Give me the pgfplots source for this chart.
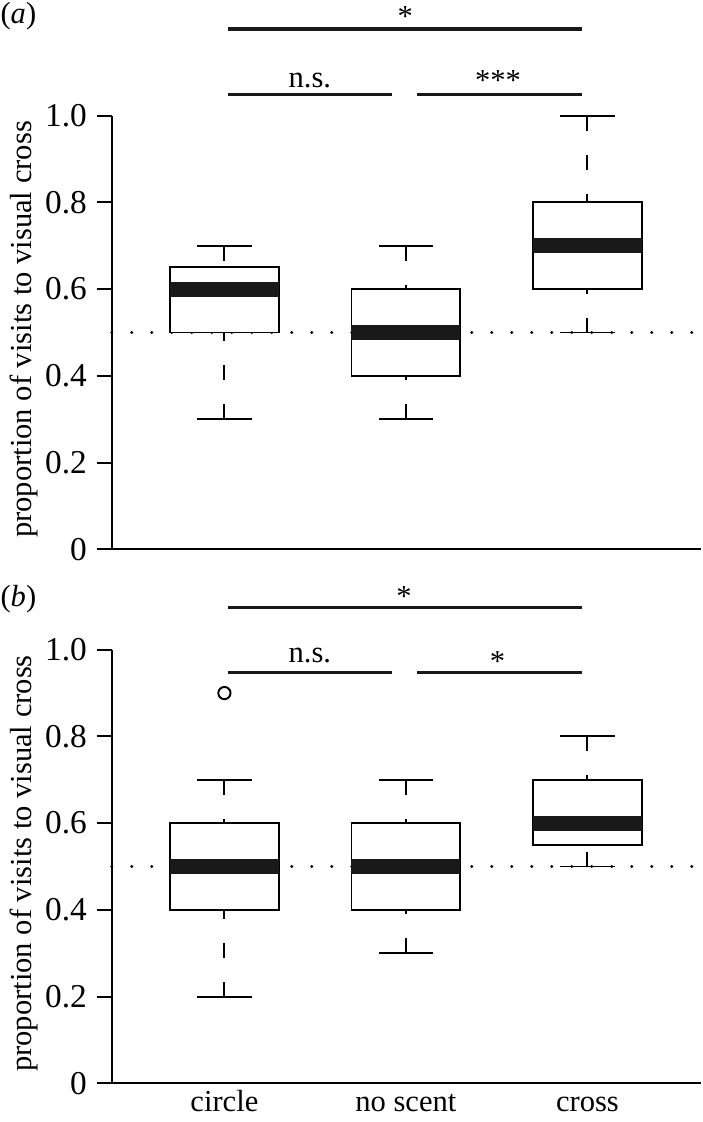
\documentclass[border=0pt]{standalone}
\usepackage{fontspec}
\setmainfont{Liberation Serif}
\usepackage{pgfplots}
\pgfplotsset{compat=1.18}

\newcommand{\fs}{\fontsize{11}{13}\selectfont}
\newcommand{\ft}{\fontsize{12}{14}\selectfont}

\pgfplotsset{
  panel/.style={
    scale only axis, width=212.04pt, height=156.1pt,
    anchor=south west,
    xmin=0.379, xmax=3.624, ymin=0, ymax=1,
    enlargelimits=false, clip=false,
    axis lines=left, axis line style={-, line width=0.7pt},
    ytick={0,0.2,0.4,0.6,0.8,1}, yticklabels={0,0.2,0.4,0.6,0.8,1.0},
    tick align=outside, major tick length=5.4pt,
    ytick style={line width=0.7pt, black},
    xtick style={draw=none},
    yticklabel style={font=\ft},
    xticklabel style={font=\fs},
    ylabel={proportion of visits to visual cross},
    ylabel style={font=\fs, at={(axis description cs:-0.149,0.507)}, anchor=center},
    unbounded coords=jump,
  },
  whisk/.style={black, line width=0.7pt, dash pattern=on 5.4pt off 8.64pt},
  cap/.style={black, line width=0.7pt},
  box/.style={black, fill=white, line width=0.7pt},
  med/.style={black!90, line width=5.4pt},
  sig/.style={black!90, line width=1.1pt},
  ref/.style={black, line width=1.15pt, line cap=round, dash pattern=on 0pt off 7.2pt},
}
\tikzset{lab/.style={font=\fs, inner sep=0pt, anchor=base}}

\begin{document}
\begin{tikzpicture}
\useasboundingbox (0,0) rectangle (252.72pt,-403.92pt);

% (a)
\begin{axis}[panel, at={(40.21pt,-197.75pt)}, xtick=\empty]
  \addplot[ref] coordinates {(0.379,0.5) (3.624,0.5)};
  % whiskers, drawn from the cap towards the box
  \addplot[whisk] coordinates {
    (1,0.3) (1,0.5) (1,nan) (1,0.7) (1,0.65) (1,nan)
    (2,0.3) (2,0.4) (2,nan) (2,0.7) (2,0.6) (2,nan)
    (3,0.5) (3,0.6) (3,nan) (3,1.0) (3,0.8)};
  \addplot[cap] coordinates {
    (0.85,0.3) (1.15,0.3) (1,nan) (0.85,0.7) (1.15,0.7) (1,nan)
    (1.85,0.3) (2.15,0.3) (2,nan) (1.85,0.7) (2.15,0.7) (2,nan)
    (2.85,0.5) (3.15,0.5) (3,nan) (2.85,1.0) (3.15,1.0)};
  \addplot[box] coordinates {(0.7,0.5) (1.3,0.5) (1.3,0.65) (0.7,0.65)} -- cycle;
  \addplot[box] coordinates {(1.7,0.4) (2.3,0.4) (2.3,0.6) (1.7,0.6)} -- cycle;
  \addplot[box] coordinates {(2.7,0.6) (3.3,0.6) (3.3,0.8) (2.7,0.8)} -- cycle;
  \addplot[med] coordinates {(0.7,0.6) (1.3,0.6) (1,nan) (1.7,0.5) (2.3,0.5) (2,nan) (2.7,0.7) (3.3,0.7)};
  % significance bars
  \addplot[sig] coordinates {(1.019,1.2) (2.968,1.2) (1,nan)
    (1.019,1.048) (1.923,1.048) (2,nan) (2.061,1.048) (2.968,1.048)};
  \node[lab] at (axis cs:1.997,1.206) {*};
  \node[lab] at (axis cs:1.471,1.065) {n.s.};
  \node[lab] at (axis cs:2.507,1.057) {***};
  \node[font=\fs, inner sep=0pt, anchor=west] at (axis description cs:-0.1896,1.230) {(\textit{a})};
\end{axis}

% (b)
\begin{axis}[panel, at={(40.21pt,-389.99pt)},
    xtick={1,2,3}, xticklabels={circle,no scent,cross},
    xticklabel style={anchor=base, yshift=-4.9pt}]
  \addplot[ref] coordinates {(0.379,0.5) (3.624,0.5)};
  \addplot[whisk] coordinates {
    (1,0.2) (1,0.4) (1,nan) (1,0.7) (1,0.6) (1,nan)
    (2,0.3) (2,0.4) (2,nan) (2,0.7) (2,0.6) (2,nan)
    (3,0.5) (3,0.55) (3,nan) (3,0.8) (3,0.7)};
  \addplot[cap] coordinates {
    (0.85,0.2) (1.15,0.2) (1,nan) (0.85,0.7) (1.15,0.7) (1,nan)
    (1.85,0.3) (2.15,0.3) (2,nan) (1.85,0.7) (2.15,0.7) (2,nan)
    (2.85,0.5) (3.15,0.5) (3,nan) (2.85,0.8) (3.15,0.8)};
  \addplot[box] coordinates {(0.7,0.4) (1.3,0.4) (1.3,0.6) (0.7,0.6)} -- cycle;
  \addplot[box] coordinates {(1.7,0.4) (2.3,0.4) (2.3,0.6) (1.7,0.6)} -- cycle;
  \addplot[box] coordinates {(2.7,0.55) (3.3,0.55) (3.3,0.7) (2.7,0.7)} -- cycle;
  \addplot[med] coordinates {(0.7,0.5) (1.3,0.5) (1,nan) (1.7,0.5) (2.3,0.5) (2,nan) (2.7,0.6) (3.3,0.6)};
  % outlier
  \addplot[only marks, mark=o, mark size=2.2pt, mark options={black, line width=0.7pt}] coordinates {(1,0.9)};
  \addplot[sig] coordinates {(1.019,1.098) (2.968,1.098) (1,nan)
    (1.019,0.948) (1.923,0.948) (2,nan) (2.061,0.948) (2.968,0.948)};
  \node[lab] at (axis cs:1.989,1.099) {*};
  \node[lab] at (axis cs:1.471,0.971) {n.s.};
  \node[lab] at (axis cs:2.505,0.949) {*};
  \node[font=\fs, inner sep=0pt, anchor=west] at (axis description cs:-0.1896,1.116) {(\textit{b})};
\end{axis}
\end{tikzpicture}
\end{document}
